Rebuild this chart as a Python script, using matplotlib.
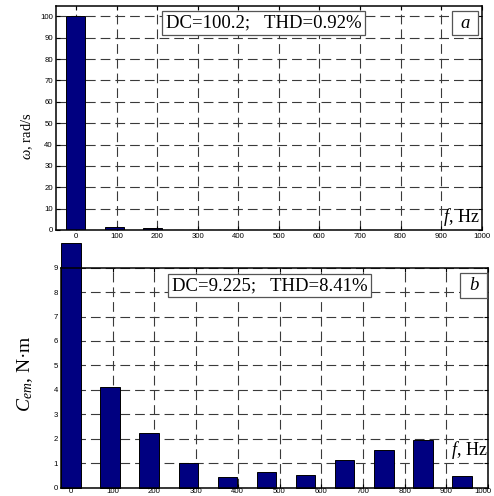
import matplotlib
matplotlib.use("Agg")
import matplotlib.pyplot as plt
import matplotlib.transforms as mtransforms
from matplotlib.patches import Rectangle

# ---------------- data ----------------
freq = [0, 93.75, 187.5, 281.25, 375, 468.75, 562.5, 656.25, 750, 843.75, 937.5]
omega_vals = [100.2, 1.2, 0.8, 0.15, 0.1, 0.1, 0.1, 0.1, 0.1, 0.1, 0.1]
cem_vals = [10.0, 4.12, 2.25, 1.02, 0.42, 0.64, 0.53, 1.12, 1.53, 1.94, 0.48]
xticks = [0, 100, 200, 300, 400, 500, 600, 700, 800, 900, 1000]
yticks_top = [0, 10, 20, 30, 40, 50, 60, 70, 80, 90, 100]
yticks_bot = [0, 1, 2, 3, 4, 5, 6, 7, 8, 9]
label_top = "DC=100.2;   THD=0.92%"
label_bot = "DC=9.225;   THD=8.41%"

plt.rcParams['lines.scale_dashes'] = False
plt.rcParams['mathtext.fontset'] = 'custom'
plt.rcParams['mathtext.rm'] = 'Liberation Serif'
plt.rcParams['mathtext.it'] = 'Liberation Serif:italic'

W, H = 494, 496
fig = plt.figure(figsize=(W / 100, H / 100), dpi=100)

def frac_rect(l, r, t, b):
    return [l / W, 1 - b / H, (r - l) / W, (b - t) / H]

ax1 = fig.add_axes(frac_rect(55.7, 481.7, 5.7, 230))
ax2 = fig.add_axes(frac_rect(61, 488, 267.7, 487.5))

bar_color = '#000080'
width = 46.875

def style(ax, ylim, yticks, xlim, xpad):
    ax.set_xlim(*xlim)
    ax.set_ylim(*ylim)
    ax.set_xticks(xticks)
    ax.set_yticks(yticks)
    ax.set_axisbelow(True)
    ax.grid(True, linestyle=(0, (7, 3.6)), color='#3a3a3a', linewidth=0.8)
    ax.tick_params(direction='in', length=2.8, width=0.8, top=True, right=True,
                   labelsize=5.6, pad=2)
    ax.tick_params(axis='x', pad=xpad)
    for lbl in ax.get_xticklabels() + ax.get_yticklabels():
        lbl.set_family('Liberation Sans')
    for s in ax.spines.values():
        s.set_linewidth(1.1)
        s.set_color('black')

ax1.bar(freq, omega_vals, width=width, color=bar_color, edgecolor='black', linewidth=0.7)
style(ax1, (0, 105), yticks_top, (-50, 1000), 2)

bars2 = ax2.bar(freq, cem_vals, width=width, color=bar_color, edgecolor='black', linewidth=0.7)
for b in bars2:
    b.set_clip_on(False)
style(ax2, (0, 9), yticks_bot, (-24, 1000), 0.6)

# keep the last bottom tick label inside the canvas
last = ax2.get_xticklabels()[-1]
last.set_transform(last.get_transform() +
                   mtransforms.ScaledTranslation(-5 / 100, 0, fig.dpi_scale_trans))

serif = 'Liberation Serif'
box = dict(boxstyle='square,pad=0.18', facecolor='white', edgecolor='#555555', linewidth=0.9)

def letter_box(ax, l, r, t, b, letter):
    pos = ax.get_position()
    x0 = (l / W - pos.x0) / pos.width
    x1 = (r / W - pos.x0) / pos.width
    y0 = ((1 - b / H) - pos.y0) / pos.height
    y1 = ((1 - t / H) - pos.y0) / pos.height
    ax.add_patch(Rectangle((x0, y0), x1 - x0, y1 - y0, transform=ax.transAxes,
                           facecolor='white', edgecolor='#555555', linewidth=0.9,
                           zorder=5, clip_on=False))
    ax.text((x0 + x1) / 2, (y0 + y1) / 2, letter, transform=ax.transAxes,
            ha='center', va='center', family=serif, style='italic', fontsize=13.5,
            zorder=6)

ax1.text(0.488, 0.923, label_top, transform=ax1.transAxes, ha='center', va='center',
         family=serif, fontsize=13.5, bbox=box, zorder=5)
letter_box(ax1, 452, 478, 11, 35, 'a')
ax2.text(0.488, 0.919, label_bot, transform=ax2.transAxes, ha='center', va='center',
         family=serif, fontsize=13.5, bbox=box, zorder=5)
letter_box(ax2, 460, 487, 273, 298, 'b')

ax1.text(0.995, 0.01, r'$\mathit{f}$, Hz', transform=ax1.transAxes, ha='right', va='bottom',
         family=serif, fontsize=13, zorder=5)
ax2.text(0.998, 0.12, r'$\mathit{f}$, Hz', transform=ax2.transAxes, ha='right', va='bottom',
         family=serif, fontsize=13, zorder=5)

fig.text(27.5 / W, 1 - 136 / H, r'$\omega$, rad/s', rotation=90, ha='center', va='center',
         family=serif, fontsize=10.5)
fig.text(25 / W, 1 - 374 / H, r'$C_{em}$, N·m', rotation=90, ha='center', va='center',
         family=serif, fontsize=14)

fig.savefig('out.png', dpi=100)
